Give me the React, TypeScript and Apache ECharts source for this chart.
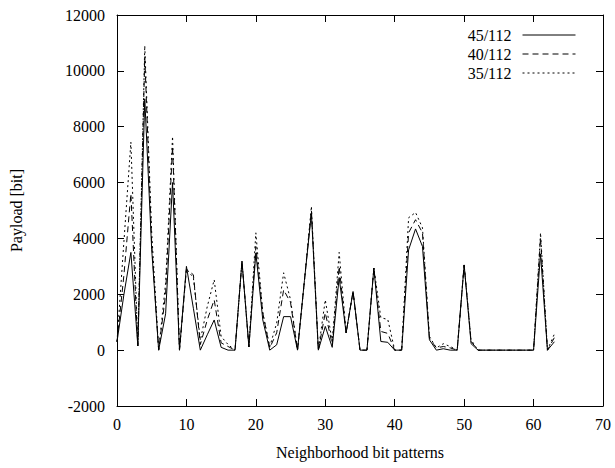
import React, { useEffect, useRef } from "react";
import * as echarts from "echarts";

const xs: number[] = Array.from({ length: 64 }, (_, i) => i);

const s45: number[] = [
  300, 2000, 3500, 150, 9000, 3600, 0, 1300, 6000, 0,
  3000, 1500, 0, 550, 1080, 100, 0, 0, 3180, 120,
  3480, 1080, 0, 190, 1200, 1200, 0, 2500, 4900, 0,
  850, 100, 2600, 620, 2100, 0, 0, 2940, 310, 280,
  0, 0, 3590, 4340, 3710, 370, 0, 50, 0, 0,
  3050, 230, 0, 0, 0, 0, 0, 0, 0, 0,
  0, 3450, 0, 300,
];
const s40: number[] = [
  300, 2700, 5600, 150, 10500, 3800, 0, 2000, 7300, 0,
  2900, 2700, 200, 1080, 1800, 260, 130, 0, 3180, 120,
  3710, 1330, 80, 620, 2160, 1700, 0, 2500, 5000, 0,
  1340, 200, 3000, 620, 2100, 0, 0, 2940, 670, 600,
  0, 0, 4200, 4670, 4200, 420, 80, 130, 80, 0,
  3050, 310, 0, 0, 0, 0, 0, 0, 0, 0,
  0, 4020, 0, 450,
];
const s35: number[] = [
  300, 3900, 7450, 150, 10900, 4200, 0, 2400, 7650, 0,
  2900, 2600, 350, 1560, 2520, 490, 200, 0, 3180, 120,
  4200, 1330, 120, 970, 2770, 1800, 0, 2500, 5150, 0,
  1800, 300, 3500, 620, 2100, 0, 0, 2940, 1160, 1100,
  0, 0, 4740, 4930, 4380, 490, 80, 230, 130, 0,
  3050, 370, 0, 0, 0, 0, 0, 0, 0, 0,
  0, 4200, 0, 580,
];

const names = ["45/112", "40/112", "35/112"];
const dashTypes: any[] = ["solid", [6, 4], [2, 3]];
const seriesValues = [s45, s40, s35];

const FONT = "'Liberation Serif', 'Times New Roman', serif";

export default function App() {
  const ref = useRef<HTMLDivElement>(null);
  useEffect(() => {
    if (!ref.current) return;
    const chart = echarts.init(ref.current, undefined, { renderer: "svg" });
    const axisLine = { show: true, onZero: false, lineStyle: { color: "#000", width: 1 } };
    const tickIn = { show: true, inside: true, length: 7, lineStyle: { color: "#000", width: 1 } };
    const plain = (v: number) => String(v);
    chart.setOption({
      animation: false,
      backgroundColor: "#fff",
      textStyle: { fontFamily: FONT },
      grid: { left: 115, right: 12, top: 15, bottom: 62, containLabel: false },
      legend: {
        orient: "vertical",
        right: 34,
        top: 22,
        align: "right",
        itemWidth: 53,
        itemHeight: 14,
        itemGap: 3,
        data: names,
        itemStyle: { opacity: 0 },
        lineStyle: { width: 1 },
        textStyle: { fontFamily: FONT, fontSize: 16, color: "#000", padding: [0, 6, 0, 0] },
      },
      xAxis: [
        {
          type: "value",
          min: 0,
          max: 70,
          interval: 10,
          position: "bottom",
          name: "Neighborhood bit patterns",
          nameLocation: "middle",
          nameGap: 38,
          nameTextStyle: { fontFamily: FONT, fontSize: 16, color: "#000" },
          axisLine,
          axisTick: tickIn,
          axisLabel: { fontFamily: FONT, fontSize: 16, color: "#000", margin: 10, formatter: plain },
          splitLine: { show: false },
        },
        {
          type: "value",
          min: 0,
          max: 70,
          interval: 10,
          position: "top",
          axisLine,
          axisTick: tickIn,
          axisLabel: { show: false },
          splitLine: { show: false },
        },
      ],
      yAxis: [
        {
          type: "value",
          min: -2000,
          max: 12000,
          interval: 2000,
          position: "left",
          name: "Payload [bit]",
          nameLocation: "middle",
          nameGap: 93,
          nameRotate: 90,
          nameTextStyle: { fontFamily: FONT, fontSize: 16, color: "#000" },
          axisLine,
          axisTick: tickIn,
          axisLabel: { fontFamily: FONT, fontSize: 16, color: "#000", margin: 12, formatter: plain },
          splitLine: { show: false },
        },
        {
          type: "value",
          min: -2000,
          max: 12000,
          interval: 2000,
          position: "right",
          axisLine,
          axisTick: tickIn,
          axisLabel: { show: false },
          splitLine: { show: false },
        },
      ],
      series: names.map((n, k) => ({
        name: n,
        type: "line",
        xAxisIndex: 0,
        yAxisIndex: 0,
        symbol: "none",
        showSymbol: false,
        data: xs.map((x, i) => [x, seriesValues[k][i]]),
        lineStyle: { color: "#000", width: 1, type: dashTypes[k] },
        itemStyle: { color: "#000" },
      })),
    });
    return () => chart.dispose();
  }, []);
  return <div ref={ref} style={{ width: 615, height: 468, position: "absolute", left: 0, top: 0 }} />;
}
